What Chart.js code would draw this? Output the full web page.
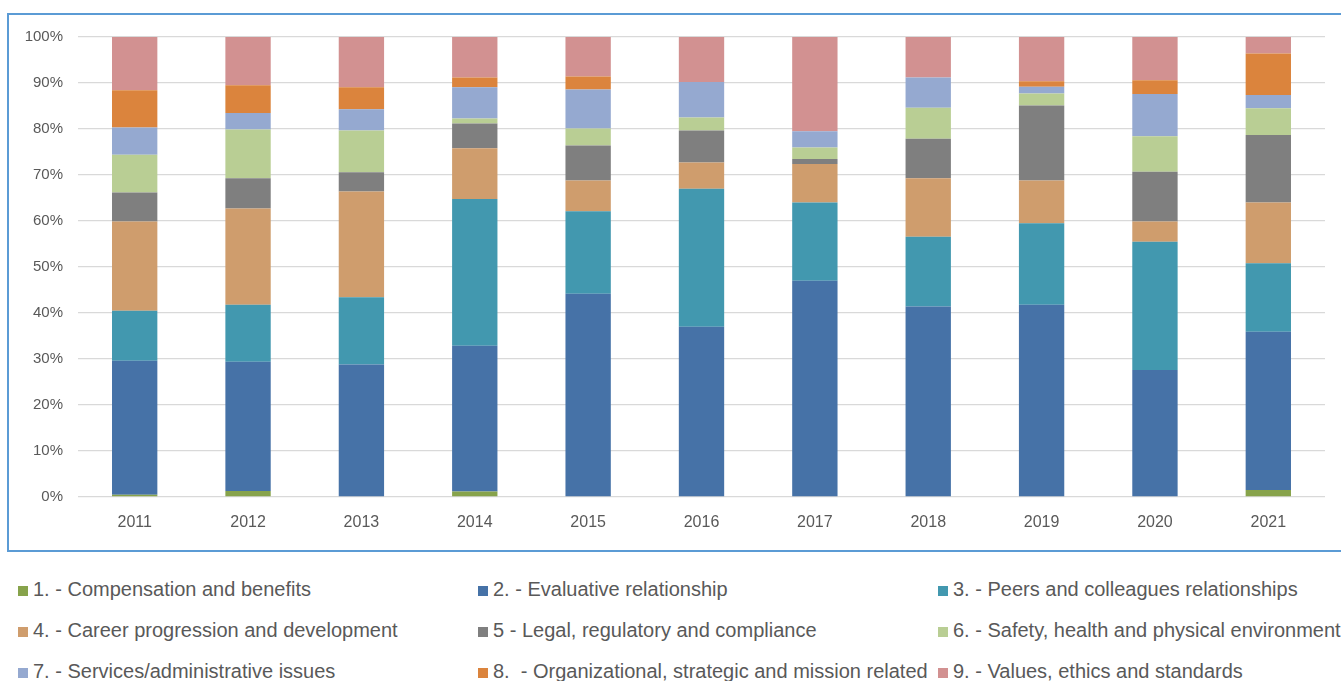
<!DOCTYPE html>
<html>
<head>
<meta charset="utf-8">
<script src="https://cdn.jsdelivr.net/npm/chart.js@4"></script>
<style>
  body { margin: 0; background: #fff; width: 1341px; height: 681px; overflow: hidden; position: relative; }
  #frame { position: absolute; left: 7px; top: 13px; width: 1400px; height: 535px; border: 2px solid #5b9bd5; }
  #wrap { position: absolute; left: 0; top: 0; width: 1341px; height: 560px; }
  #legend { position: absolute; left: 0; top: 569px; width: 1341px; font-family: "Liberation Sans", Arial, sans-serif; font-size: 20px; color: #595959; }
  .row { position: absolute; left: 0; height: 41px; line-height: 41px; width: 1341px; white-space: nowrap; }
  .item { position: absolute; top: 0; white-space: nowrap; }
  .box { display: inline-block; width: 10px; height: 10px; margin-right: 5px; vertical-align: 0px; }
</style>
</head>
<body>
<div id="frame"></div>
<div id="wrap"><canvas id="myChart" width="1341" height="560"></canvas></div>
<div id="legend"></div>

<script>
const years = ["2011", "2012", "2013", "2014", "2015", "2016", "2017", "2018", "2019", "2020", "2021"];
const yTicks = [0, 10, 20, 30, 40, 50, 60, 70, 80, 90, 100];

// shares in %
const compensation   = [0.5, 1.3, 0,    1.2,  0,    0,    0,    0,    0,    0,    1.5];
const evaluative     = [29.1, 28.1, 28.8, 31.7, 44.2, 37.0, 47.0, 41.4, 41.8, 27.6, 34.4];
const peers          = [10.9, 12.4, 14.6, 31.9, 17.9, 30.0, 17.0, 15.2, 17.7, 27.9, 14.9];
const career         = [19.4, 20.9, 23.0, 11.0, 6.7,  5.7,  8.4,  12.7, 9.3,  4.4,  13.2];
const legal          = [6.3,  6.6,  4.2,  5.4,  7.6,  7.0,  1.1,  8.6,  16.3, 10.8, 14.7];
const safety         = [8.2,  10.6, 9.1,  1.1,  3.7,  2.8,  2.5,  6.7,  2.6,  7.7,  5.8];
const services       = [5.9,  3.6,  4.6,  6.8,  8.5,  7.7,  3.5,  6.6,  1.5,  9.2,  2.9];
const organizational = [8.1,  6.0,  4.8,  2.1,  2.8,  0,    0,    0,    1.2,  3.0,  9.0];
const values         = [11.6, 10.5, 10.9, 8.8,  8.6,  9.8,  20.5, 8.8,  9.6,  9.4,  3.6];

const seriesNames = [
  "1. - Compensation and benefits",
  "2. - Evaluative relationship",
  "3. - Peers and colleagues relationships",
  "4. - Career progression and development",
  "5 - Legal, regulatory and compliance",
  "6. - Safety, health and physical environment",
  "7. - Services/administrative issues",
  "8.  - Organizational, strategic and mission related",
  "9. - Values, ethics and standards"
];
const seriesData = [compensation, evaluative, peers, career, legal, safety, services, organizational, values];
const seriesColors = ["#87a34b", "#4672a7", "#4298af", "#cf9d6d", "#7f7f7f", "#b9ce94", "#95a9d0", "#db843d", "#d29191"];

const datasets = seriesNames.map((name, i) => ({
  label: name,
  data: seriesData[i],
  backgroundColor: seriesColors[i],
  borderWidth: 0,
  barPercentage: 0.4,
  categoryPercentage: 1
}));

const ctx = document.getElementById("myChart").getContext("2d");

new Chart(ctx, {
  type: "bar",
  data: { labels: years, datasets: datasets },
  options: {
    responsive: false,
    animation: false,
    devicePixelRatio: 1,
    layout: { padding: { top: 37, right: 16, bottom: 0, left: 0 } },
    plugins: { legend: { display: false }, tooltip: { enabled: false } },
    scales: {
      x: {
        stacked: true,
        grid: { display: false, drawTicks: false },
        border: { display: false },
        ticks: { color: "#595959", padding: 16, font: { family: "Liberation Sans", size: 16 } },
        afterFit: s => { s.height = 63; }
      },
      y: {
        stacked: true,
        min: 0,
        max: 100,
        afterBuildTicks: s => { s.ticks = yTicks.map(v => ({ value: v })); },
        grid: { color: "#d9d9d9", lineWidth: 1.3, drawTicks: false },
        border: { display: false },
        ticks: {
          color: "#595959",
          padding: 15,
          font: { family: "Liberation Sans", size: 15 },
          callback: v => v + "%"
        },
        afterFit: s => { s.width = 78; }
      }
    }
  }
});

/* legend, 3 columns like the original */
const legend = document.getElementById("legend");
const colX = [18, 478, 938];
for (let r = 0; r < 3; r++) {
  const row = document.createElement("div");
  row.className = "row";
  row.style.top = (r * 41) + "px";
  for (let c = 0; c < 3; c++) {
    const i = r * 3 + c;
    row.innerHTML += `<span class="item" style="left:${colX[c]}px"><span class="box" style="background:${seriesColors[i]}"></span>${seriesNames[i].replace(/  /g, "&nbsp; ")}</span>`;
  }
  legend.appendChild(row);
}
</script>
</body>
</html>
